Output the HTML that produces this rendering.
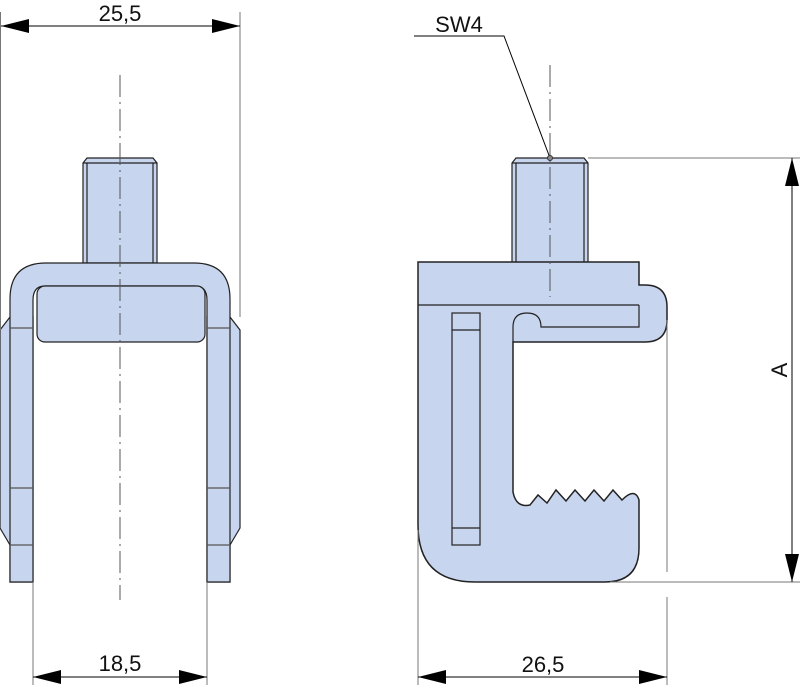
<!DOCTYPE html>
<html><head><meta charset="utf-8"><style>
html,body{margin:0;padding:0;background:#fff;width:800px;height:685px;overflow:hidden}
svg{display:block}
text{font-family:"Liberation Sans",sans-serif;fill:#111}
</style></head><body>
<svg width="800" height="685" viewBox="0 0 800 685" xmlns="http://www.w3.org/2000/svg">
<defs>
<marker id="a" viewBox="0 0 28 14" refX="28" refY="7" markerWidth="28" markerHeight="14" markerUnits="userSpaceOnUse" orient="auto-start-reverse"><path d="M0,0 L28,7 L0,14 Z" fill="#000"/></marker>
</defs>
<g fill="#c7d5ee" stroke="#222" stroke-width="1.2">
<!-- LEFT VIEW -->
<path d="M10,317 L0,330 L0,528 L10,545 L10,582 L33,582 L33,317 Z"/>
<path d="M230,317 L240,330 L240,528 L230,545 L230,582 L207,582 L207,317 Z"/>
<path d="M83,163 L87,158 L153,158 L157,163 L157,263 L83,263 Z"/>
<line x1="87" y1="163" x2="87" y2="263"/><line x1="153" y1="163" x2="153" y2="263"/><line x1="83" y1="163" x2="157" y2="163"/>
<path d="M10,582 L10,299 Q10,263 46,263 L194,263 Q230,263 230,299 L230,582 L207,582 L207,300 Q207,286 195,286 L45,286 Q33,286 33,300 L33,582 Z"/>
<rect x="37" y="286" width="168" height="56" rx="8"/>
<g fill="none" stroke="#555">
<line x1="10" y1="328" x2="33" y2="328"/><line x1="10" y1="488" x2="33" y2="488"/><line x1="10" y1="545" x2="33" y2="545"/>
<line x1="207" y1="328" x2="230" y2="328"/><line x1="207" y1="488" x2="230" y2="488"/><line x1="207" y1="545" x2="230" y2="545"/>
</g>
<!-- RIGHT VIEW -->
<path d="M512,163 L516,158 L584,158 L588,163 L588,263 L512,263 Z"/>
<line x1="516" y1="163" x2="516" y2="263"/><line x1="584" y1="163" x2="584" y2="263"/><line x1="512" y1="163" x2="588" y2="163"/>
<path stroke-width="1.5" d="M418,262 L639,262 L639,285 L645,285 Q667,285 667,307 L667,320 Q667,342 645,342 L513,342 L513,492 Q516,508 530,505 L538,495 L547,503 L556,490 L566,501 L575,490 L585,501 L594,490 L604,501 L613,490 L622,500 Q635,487 639,500 L639,548 Q639,582 605,582 L475,582 Q418,582 418,525 Z"/>
<path fill="none" d="M418,305 L639,305 M639,305 L639,327 L541,327 Q541,313 527,313 Q513,313 513,327 L513,342"/>
<rect x="452" y="313" width="28" height="232" fill="none"/>
<line x1="452" y1="330" x2="480" y2="330"/><line x1="452" y1="528" x2="480" y2="528"/>
</g>
<g stroke="#555" stroke-width="1" stroke-dasharray="22,5,2,5" fill="none">
<line x1="120" y1="75" x2="120" y2="600"/>
<line x1="550" y1="65" x2="550" y2="297"/>
</g>
<g stroke="#777" stroke-width="1" fill="none">
<line x1="0.5" y1="12" x2="0.5" y2="330"/>
<line x1="240" y1="12" x2="240" y2="317"/>
<line x1="33" y1="582" x2="33" y2="685"/>
<line x1="207" y1="582" x2="207" y2="685"/>
<line x1="418" y1="530" x2="418" y2="685"/>
<line x1="667" y1="320" x2="667" y2="572"/>
<line x1="667" y1="597" x2="667" y2="685"/>
<line x1="588" y1="158" x2="800" y2="158"/>
<line x1="610" y1="582" x2="800" y2="582"/>
</g>
<g stroke="#000" stroke-width="1" fill="none">
<line x1="1" y1="26" x2="240" y2="26" marker-start="url(#a)" marker-end="url(#a)"/>
<line x1="33" y1="677" x2="207" y2="677" marker-start="url(#a)" marker-end="url(#a)"/>
<line x1="418" y1="677" x2="667" y2="677" marker-start="url(#a)" marker-end="url(#a)"/>
<line x1="792" y1="158" x2="792" y2="582" marker-start="url(#a)" marker-end="url(#a)"/>
<polyline points="414,36 504,36 550,158"/>
</g>
<circle cx="550" cy="158" r="2.5" fill="#888" stroke="#333"/>
<text x="120" y="21" font-size="22" text-anchor="middle">25,5</text>
<text x="120" y="671" font-size="22" text-anchor="middle">18,5</text>
<text x="543" y="672" font-size="22" text-anchor="middle">26,5</text>
<text x="459" y="32" font-size="22" text-anchor="middle">SW4</text>
<text x="0" y="0" font-size="22" text-anchor="middle" transform="translate(787,370) rotate(-90)">A</text>
</svg>
</body></html>
